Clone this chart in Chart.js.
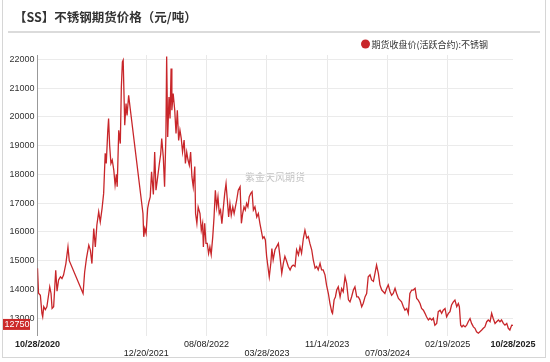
<!DOCTYPE html>
<html>
<head>
<meta charset="utf-8">
<script src="https://cdn.jsdelivr.net/npm/chart.js@4.4.0/dist/chart.umd.min.js"></script>
<style>
  html, body { margin: 0; padding: 0; background: #fff; }
  #wrap { width: 550px; height: 362px; position: relative; }
</style>
</head>
<body>
<div id="wrap"><canvas id="myChart" width="550" height="362"></canvas></div>
<script>
// days since 10/28/2020
const days = [
  0,4,11,17,20,24,30,36,47,52,
  56,62,70,75,81,88,94,100,109,117,
  122,175,181,188,197,203,209,216,222,228,
  235,241,248,254,260,264,270,273,277,282,
  287,293,298,303,306,312,318,322,326,329,
  335,340,344,350,356,405,408,412,417,423,
  428,433,438,445,450,455,460,468,473,477,
  483,488,493,496,500,505,509,513,516,521,
  527,532,537,542,547,552,557,563,568,573,
  578,583,588,593,598,604,607,612,617,624,
  629,634,637,642,647,652,657,662,667,673,
  678,683,688,693,698,703,708,714,719,724,
  729,734,739,744,750,755,760,765,771,778,
  783,788,793,798,803,808,813,819,824,829,
  835,842,848,854,859,865,870,875,880,885,
  890,896,900,905,912,918,925,931,938,944,
  950,957,963,970,976,982,989,995,1002,1008,
  1014,1021,1027,1034,1040,1046,1053,1059,1066,1072,
  1078,1085,1091,1097,1104,1110,1117,1123,1130,1133,
  1139,1144,1149,1155,1162,1168,1174,1181,1187,1194,
  1200,1206,1213,1219,1226,1232,1238,1245,1251,1258,
  1264,1270,1277,1283,1290,1296,1302,1309,1315,1322,
  1328,1334,1341,1347,1354,1360,1366,1373,1379,1386,
  1392,1398,1405,1411,1418,1424,1430,1437,1443,1450,
  1456,1462,1469,1475,1482,1488,1494,1501,1507,1514,
  1520,1526,1533,1539,1546,1552,1558,1565,1571,1578,
  1584,1590,1597,1603,1610,1616,1620,1625,1630,1635,
  1642,1648,1654,1661,1667,1674,1680,1686,1693,1699,
  1706,1712,1718,1725,1731,1738,1744,1750,1757,1763,
  1770,1776,1782,1789,1795,1802,1808,1814,1821,1826
]
const prices = [
  14740,13870,13800,13170,13050,13400,13300,13400,14090,13860,
  13340,13400,14670,13940,14330,14440,14380,14500,14900,15480,
  15000,13860,14600,15080,15540,15370,14900,16120,15480,16240,
  16700,16350,16820,17340,18730,18380,19530,19940,19010,18380,
  18500,18150,17630,18000,17570,19530,19070,21040,21910,21970,
  19710,20460,20050,20750,20290,16640,15830,16120,15950,16820,
  17050,17220,18090,17300,18780,17450,17800,18380,18700,19250,
  18610,17570,19300,22100,19300,20690,19940,21680,20230,20810,
  20230,19420,20230,19180,19540,19250,18780,19190,18380,18780,
  18500,18320,18780,17920,17570,18270,16640,16300,16870,16640,
  16060,16300,15480,16300,15600,15600,15250,15480,15210,15830,
  16520,17450,16870,17220,16640,16760,16290,16870,17340,17680,
  17110,16520,16990,16580,16870,16640,16870,17110,17450,17570,
  16300,16640,16870,16760,16990,16870,17220,17340,17400,16760,
  16870,16520,16640,16300,16060,15780,15830,15720,15140,14790,
  14440,14910,15420,15030,15380,15480,15600,15150,14560,14910,
  15150,14970,14800,14680,14800,14850,14800,15380,15200,15480,
  15260,15780,16060,15780,15840,15600,15380,15030,14740,14800,
  14680,14910,14680,14680,14510,14150,13860,13520,13220,13170,
  13640,13740,13980,14090,13740,14030,13920,14440,14210,13640,
  13570,13740,13980,14090,13740,13740,13640,13400,13520,13750,
  13860,14440,14510,14330,14280,14560,14850,14560,14160,13980,
  13920,13860,14040,14160,13920,13800,13860,14040,13860,13690,
  13630,13570,13400,13280,13340,13170,13860,13980,13980,14040,
  13690,13630,13510,13340,13280,13170,13050,12940,13000,12940,
  13000,12760,12820,13230,13280,13170,13280,13340,13050,13170,
  13230,13460,13570,13630,13400,13510,13400,12760,12700,12760,
  12700,12760,12880,12990,12820,12700,12650,12530,12480,12530,
  12590,12650,12700,12880,12940,12880,13170,12990,12820,12880,
  12940,12880,12940,12820,12760,12820,12650,12590,12760,12750
]
const xTickDays = [0, 418, 649, 881, 1112, 1344, 1575, 1826]
const yTicks = [13000, 14000, 15000, 16000, 17000, 18000, 19000, 20000, 21000, 22000]
const lastValue = 12750

const seriesName = '期货收盘价(活跃合约):不锈钢'
const titleText = '【SS】不锈钢期货价格（元/吨）'
const watermark = '紫金天风期货'
const lineColor = '#c8262a'

function fmtDay(d) {
  const t = new Date(Date.UTC(2020, 9, 28) + d * 86400000)
  const mm = String(t.getUTCMonth() + 1).padStart(2, '0')
  const dd = String(t.getUTCDate()).padStart(2, '0')
  return mm + '/' + dd + '/' + t.getUTCFullYear()
}

const decor = {
  id: 'decor',
  beforeDraw(chart) {
    const c = chart.ctx
    c.save()
    c.strokeStyle = '#d6d6d6'
    c.lineWidth = 1
    c.strokeRect(2.5, -2, 543, 359.5)
    c.strokeStyle = '#cfcfcf'
    c.lineWidth = 1.5
    c.beginPath(); c.moveTo(8, 32); c.lineTo(540, 32); c.stroke()
    c.fillStyle = '#333'
    c.font = 'bold 12.5px "Noto Sans CJK SC", sans-serif'
    c.textBaseline = 'middle'
    c.fillText(titleText, 14, 17)
    // legend
    c.fillStyle = lineColor
    c.beginPath(); c.arc(365.5, 44, 4.5, 0, Math.PI * 2); c.fill()
    c.fillStyle = '#333'
    c.font = '9px "Noto Sans CJK SC", sans-serif'
    c.fillText(seriesName, 371.5, 44.5)
    // watermark
    c.fillStyle = '#c4c4c4'
    c.font = '10px "Noto Sans CJK SC", sans-serif'
    c.textAlign = 'center'
    c.fillText(watermark, 275, 177)
    c.restore()
  },
  afterDraw(chart) {
    const c = chart.ctx
    const y = chart.scales.y.getPixelForValue(lastValue)
    c.save()
    c.fillStyle = '#cc2a2a'
    c.fillRect(3, y - 6.5, 27, 11)
    c.fillStyle = '#fff'
    c.font = '9px "Liberation Sans", Arial, sans-serif'
    c.textAlign = 'right'
    c.textBaseline = 'middle'
    c.fillText(String(lastValue), 29.5, y - 1)
    c.restore()
  }
}

const ctx = document.getElementById('myChart').getContext('2d')
const myChart = new Chart(ctx, {
  type: 'line',
  data: {
    datasets: [{
      label: seriesName,
      data: days.map((d, i) => ({ x: d, y: prices[i] })),
      borderColor: lineColor,
      borderWidth: 1.3,
      pointRadius: 0,
      tension: 0
    }]
  },
  options: {
    responsive: false,
    animation: false,
    events: [],
    layout: { padding: { top: 55, right: 37, left: 0, bottom: 0 } },
    plugins: { legend: { display: false }, tooltip: { enabled: false } },
    scales: {
      x: {
        type: 'linear',
        min: 0,
        max: 1826,
        afterBuildTicks: s => { s.ticks = xTickDays.map(v => ({ value: v })) },
        afterFit: s => { s.height = 26.5 },
        border: { display: false },
        grid: {
          color: c => (c.index === 0 || c.index === xTickDays.length - 1) ? 'rgba(0,0,0,0)' : '#e9e9e9',
          drawTicks: false
        },
        ticks: {
          autoSkip: false,
          maxRotation: 0,
          padding: 5,
          color: '#222',
          font: c => ({
            family: '"Liberation Sans", Arial, sans-serif',
            size: 9,
            lineHeight: 1,
            weight: (c.index === 0 || c.index === xTickDays.length - 1) ? 'bold' : 'normal'
          }),
          callback: (v, i) => (i === 1 || i === 3 || i === 5) ? ['', fmtDay(v)] : fmtDay(v)
        }
      },
      y: {
        min: 12400,
        max: 22150,
        afterBuildTicks: s => { s.ticks = yTicks.map(v => ({ value: v })) },
        afterFit: s => { s.width = 37.5 },
        border: { display: true, color: '#999', width: 1 },
        grid: { color: '#ebebeb', drawTicks: false },
        ticks: {
          padding: 3,
          color: '#333',
          font: { family: '"Liberation Sans", Arial, sans-serif', size: 9 },
          callback: v => String(v)
        }
      }
    }
  },
  plugins: [decor]
})
</script>
</body>
</html>
